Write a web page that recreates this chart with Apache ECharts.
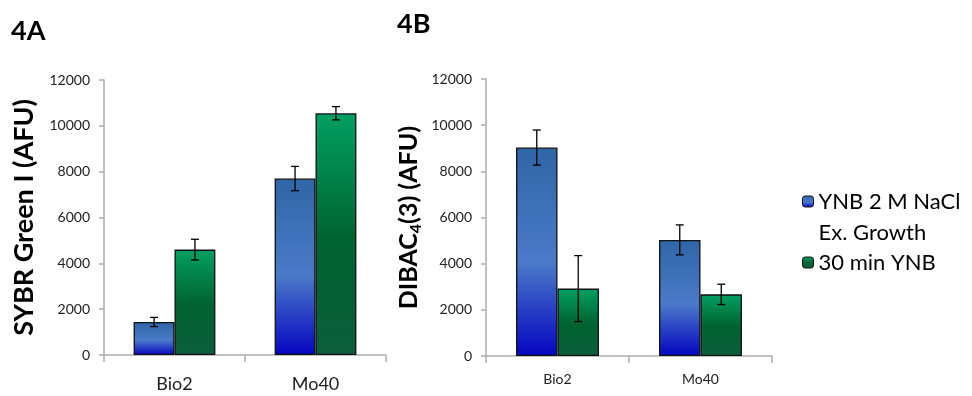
<!DOCTYPE html>
<html><head><meta charset="utf-8">
<script src="https://cdn.jsdelivr.net/npm/echarts@6/dist/echarts.min.js"></script>
<style>html,body{margin:0;padding:0;background:#fff}#c{width:972px;height:396px}</style>
</head><body><div id="c"></div>
<script>
var categories = ['Bio2', 'Mo40'];
var seriesNames = ['YNB 2 M NaCl\nEx. Growth', '30 min YNB'];
var yTicks = [0, 2000, 4000, 6000, 8000, 10000, 12000];
// Panel 4A: SYBR Green I (AFU)
var aExGrowth = [1440, 7700];
var aExGrowthErr = [200, 530];
var aYNB = [4600, 10550];
var aYNBErr = [450, 290];
// Panel 4B: DIBAC4(3) (AFU)
var bExGrowth = [9030, 5030];
var bExGrowthErr = [760, 650];
var bYNB = [2920, 2670];
var bYNBErr = [1430, 440];

var FONT = 'Lato, "Open Sans", sans-serif';
var chart = echarts.init(document.getElementById('c'));
var G = echarts.graphic;
var blueGrad = new G.LinearGradient(0, 0, 0, 1, [
  {offset: 0, color: '#2F66A6'}, {offset: 0.55, color: '#4B7AC9'}, {offset: 1, color: '#0505BF'}]);
var greenGrad = new G.LinearGradient(0, 0, 0, 1, [
  {offset: 0, color: '#00A062'}, {offset: 0.52, color: '#006330'}, {offset: 1, color: '#0C5E3C'}]);

function errData(vals, errs) { return vals.map(function (v, i) { return [i, v, errs[i]]; }); }
function errRender(frac) {
  return function (params, api) {
    var x = api.value(0), v = api.value(1), e = api.value(2);
    var w = api.size([1, 0])[0];
    var t = api.coord([x, v + e]), b = api.coord([x, v - e]);
    var cx = t[0] + frac * w, cap = 4;
    var st = {stroke: '#000', lineWidth: 1.3};
    return {type: 'group', children: [
      {type: 'line', shape: {x1: cx, y1: t[1], x2: cx, y2: b[1]}, style: st},
      {type: 'line', shape: {x1: cx - cap, y1: t[1], x2: cx + cap, y2: t[1]}, style: st},
      {type: 'line', shape: {x1: cx - cap, y1: b[1], x2: cx + cap, y2: b[1]}, style: st}
    ]};
  };
}
function yAxis(idx, name, gap, rich) {
  return {
    type: 'value', gridIndex: idx, min: yTicks[0], max: yTicks[yTicks.length - 1], interval: yTicks[1] - yTicks[0],
    name: name, nameLocation: 'middle', nameGap: gap, nameRotate: 90,
    nameTextStyle: rich ? {rich: rich, color: '#000'} : {fontFamily: FONT, fontWeight: 'bold', fontSize: 27, color: '#000'},
    axisLine: {show: true, lineStyle: {color: '#ADADAD', width: 1.5}},
    axisTick: {show: true, length: 5, lineStyle: {color: '#ADADAD', width: 1.5}},
    axisLabel: {fontFamily: FONT, fontSize: 14, color: '#222', margin: 14, formatter: function (v) { return String(v); }},
    splitLine: {show: false}
  };
}
function xAxis(idx, fs, margin) {
  return {
    type: 'category', gridIndex: idx, data: categories,
    axisLine: {show: true, lineStyle: {color: '#ADADAD', width: 1.5}},
    axisTick: {show: true, length: 7, lineStyle: {color: '#ADADAD', width: 1.5}},
    axisLabel: {fontFamily: FONT, fontSize: fs, color: '#222', margin: margin}
  };
}
function bar(name, data, idx, grad) {
  return {type: 'bar', name: name, xAxisIndex: idx, yAxisIndex: idx, data: data,
    barGap: '0%', barCategoryGap: '42%',
    itemStyle: {color: grad, borderColor: '#111', borderWidth: 1.3}, z: 2};
}
function err(data, idx, frac) {
  return {type: 'custom', name: 'err' + idx + frac, xAxisIndex: idx, yAxisIndex: idx,
    data: data, renderItem: errRender(frac), z: 5, silent: true};
}
var subRich = {
  a: {fontFamily: FONT, fontWeight: 'bold', fontSize: 25, color: '#000'},
  s: {fontFamily: FONT, fontWeight: 'bold', fontSize: 16, color: '#000', padding: [15, 0, 0, 0]}
};
chart.setOption({
  animation: false,
  title: [
    {text: '4A', left: 11, top: 18, padding: 0, textStyle: {fontFamily: FONT, fontWeight: 'bold', fontSize: 27, color: '#000'}},
    {text: '4B', left: 397, top: 11, padding: 0, textStyle: {fontFamily: FONT, fontWeight: 'bold', fontSize: 27, color: '#000'}}
  ],
  legend: {
    orient: 'vertical', left: 802, top: 155, padding: 0, itemGap: -1,
    itemWidth: 11, itemHeight: 11, itemStyle: {borderColor: '#111', borderWidth: 1},
    data: seriesNames,
    formatter: function (n) { return n.indexOf('\n') >= 0 ? ' \n' + n : n; },
    textStyle: {fontFamily: FONT, fontSize: 22, color: '#000', lineHeight: 31}
  },
  grid: [
    {left: 104, top: 80, width: 282, height: 275},
    {left: 486, top: 79, width: 286, height: 277}
  ],
  xAxis: [xAxis(0, 18, 20), xAxis(1, 14, 16)],
  yAxis: [yAxis(0, 'SYBR Green I (AFU)', 66), yAxis(1, '{a|DIBAC}{s|4}{a|(3) (AFU)}', 62, subRich)],
  series: [
    bar(seriesNames[0], aExGrowth, 0, blueGrad),
    bar(seriesNames[1], aYNB, 0, greenGrad),
    err(errData(aExGrowth, aExGrowthErr), 0, -0.145),
    err(errData(aYNB, aYNBErr), 0, 0.145),
    bar(seriesNames[0], bExGrowth, 1, blueGrad),
    bar(seriesNames[1], bYNB, 1, greenGrad),
    err(errData(bExGrowth, bExGrowthErr), 1, -0.145),
    err(errData(bYNB, bYNBErr), 1, 0.145)
  ]
});
</script></body></html>
